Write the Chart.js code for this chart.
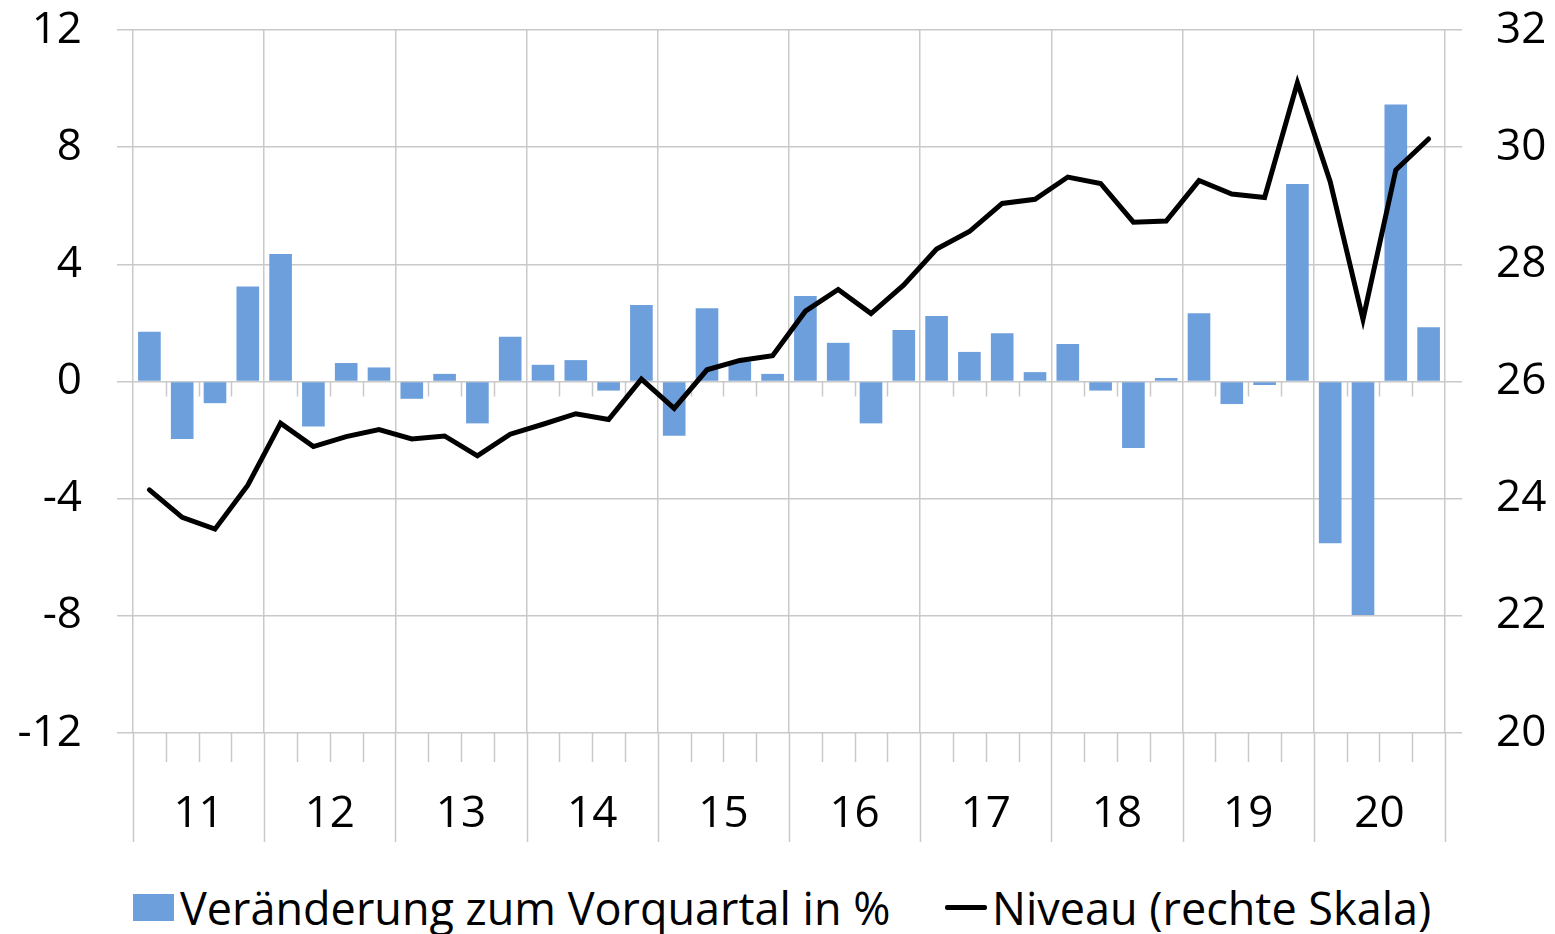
<!DOCTYPE html>
<html>
<head>
    <meta charset="utf-8">
    <title>Veränderung zum Vorquartal</title>
    <script src="https://cdn.jsdelivr.net/npm/chart.js"></script>
    <style>
        body { margin: 0; background: #fff; font-family: 'Open Sans', sans-serif; }
        #wrap { position: relative; width: 1555px; height: 860px; }
        .legend { position: relative; width: 1555px; height: 74px; font-size: 45px; color: #000; }
        .legend-item { position: absolute; top: 17px; height: 60px; display: flex; align-items: center; white-space: nowrap; }
        .box { width: 41px; height: 27px; background: #6c9fdb; margin-right: 6px; }
        .line { width: 42px; height: 5px; background: #000; border-radius: 2px; margin-right: 5px; }
    </style>
</head>
<body>
    <div id="wrap"><canvas id="chart"></canvas></div>
    <div class="legend">
        <div class="legend-item" style="left:133px"><span class="box"></span>Veränderung zum Vorquartal in %</div>
        <div class="legend-item" style="left:945px"><span class="line"></span>Niveau (rechte Skala)</div>
    </div>

    <script>
        const years = ['11', '12', '13', '14', '15', '16', '17', '18', '19', '20'];
        const quarters = years.flatMap(y => ['Q1', 'Q2', 'Q3', 'Q4'].map(q => y + ' ' + q));

        // Veränderung zum Vorquartal in % (linke Skala)
        const changes = [
            1.70, -1.96, -0.74, 3.24,
            4.35, -1.54, 0.63, 0.48,
            -0.59, 0.26, -1.43, 1.53,
            0.57, 0.73, -0.31, 2.61,
            -1.85, 2.50, 0.68, 0.26,
            2.92, 1.32, -1.43, 1.76,
            2.24, 1.01, 1.65, 0.32,
            1.28, -0.31, -2.27, 0.12,
            2.33, -0.77, -0.12, 6.74,
            -5.52, -7.97, 9.46, 1.85
        ];

        // Niveau (rechte Skala)
        const level = [
            24.15, 23.68, 23.48, 24.23,
            25.29, 24.89, 25.06, 25.18,
            25.02, 25.07, 24.73, 25.10,
            25.27, 25.45, 25.35, 26.04,
            25.54, 26.20, 26.36, 26.44,
            27.20, 27.57, 27.16, 27.65,
            28.26, 28.56, 29.04, 29.11,
            29.49, 29.38, 28.72, 28.74,
            29.43, 29.20, 29.14, 31.10,
            29.41, 27.06, 29.61, 30.14
        ];

        const GRID = '#c9c9c9';
        const FONT = { family: 'Open Sans', size: 44 };

        // short quarter ticks under the zero line and under the axis, year lines down to the labels
        const quarterTicks = {
            id: 'quarterTicks',
            beforeDatasetsDraw(chart) {
                const { ctx, chartArea, scales: { x, y } } = chart;
                const half = (x.getPixelForValue(1) - x.getPixelForValue(0)) / 2;
                const y0 = y.getPixelForValue(0);
                ctx.save();
                ctx.strokeStyle = GRID;
                ctx.lineWidth = 1.5;
                ctx.beginPath();
                for (let i = 0; i <= quarters.length; i++) {
                    const px = Math.round(x.getPixelForValue(i) - half) + 0.5;
                    if (i % 4 === 0) {
                        ctx.moveTo(px, chartArea.bottom);
                        ctx.lineTo(px, chartArea.bottom + 109);
                    } else {
                        ctx.moveTo(px, chartArea.bottom);
                        ctx.lineTo(px, chartArea.bottom + 29);
                        ctx.moveTo(px, y0);
                        ctx.lineTo(px, y0 + 15);
                    }
                }
                ctx.stroke();
                ctx.restore();
            }
        };

        // fixed axis sizes so the plot area sits where it does in the original
        const fitY = w => s => { s.width = w; s.paddingTop = 30; s.paddingBottom = 0; };

        new Chart(document.getElementById('chart'), {
            type: 'bar',
            data: {
                labels: quarters,
                datasets: [{
                    type: 'line',
                    label: 'Niveau (rechte Skala)',
                    data: level,
                    yAxisID: 'y1',
                    borderColor: '#000',
                    borderWidth: 5,
                    pointRadius: 0,
                    tension: 0,
                    borderCapStyle: 'round',
                    order: 0
                }, {
                    label: 'Veränderung zum Vorquartal in %',
                    data: changes,
                    yAxisID: 'y',
                    backgroundColor: '#6c9fdb',
                    barPercentage: 0.69,
                    categoryPercentage: 1,
                    order: 1
                }]
            },
            options: {
                responsive: true,
                maintainAspectRatio: false,
                animation: false,
                layout: { padding: 0 },
                plugins: {
                    legend: { display: false },
                    tooltip: { enabled: false }
                },
                scales: {
                    x: {
                        offset: true,
                        border: { display: false },
                        grid: {
                            offset: true,
                            drawTicks: false,
                            lineWidth: 1.5,
                            color: c => (c.index === undefined || c.index % 4 === 0) ? GRID : 'transparent'
                        },
                        ticks: {
                            autoSkip: false,
                            maxRotation: 0,
                            minRotation: 0,
                            padding: 55,
                            labelOffset: 16.4,
                            color: '#000',
                            font: FONT,
                            callback: (v, i) => i % 4 === 1 ? quarters[i].split(' ')[0] : ''
                        },
                        afterFit: s => { s.height = 127; }
                    },
                    y: {
                        position: 'left',
                        min: -12,
                        max: 12,
                        border: { display: false },
                        grid: { color: GRID, lineWidth: 1.5, tickLength: 16 },
                        ticks: { stepSize: 4, padding: 35, color: '#000', font: FONT },
                        afterFit: fitY(133)
                    },
                    y1: {
                        position: 'right',
                        min: 20,
                        max: 32,
                        border: { display: false },
                        grid: { drawOnChartArea: false, color: GRID, lineWidth: 1.5, tickLength: 17 },
                        ticks: { stepSize: 2, padding: 34, color: '#000', font: FONT },
                        afterFit: fitY(110)
                    }
                }
            },
            plugins: [quarterTicks]
        });
    </script>
</body>
</html>
